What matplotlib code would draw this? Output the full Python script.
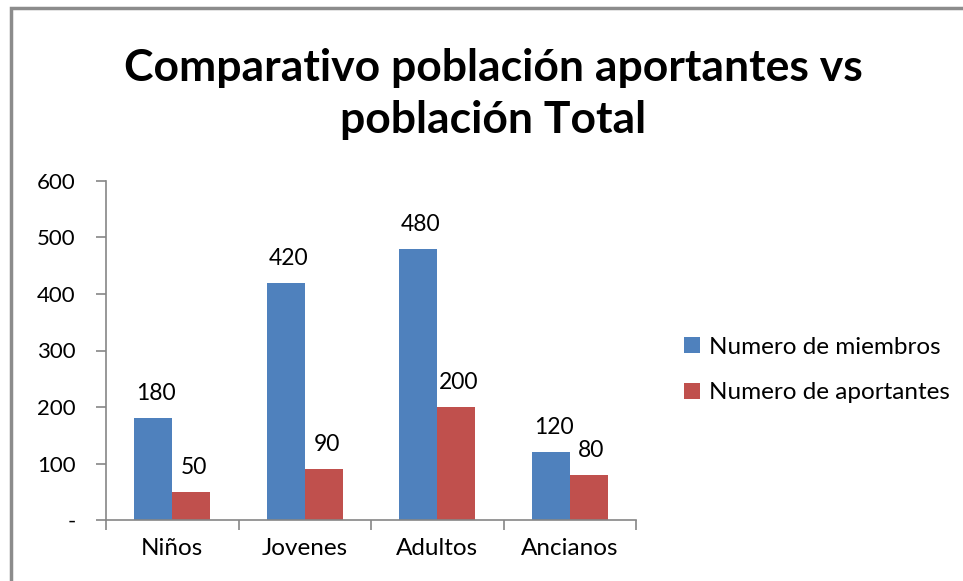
import matplotlib.pyplot as plt
import matplotlib.patches as patches
import numpy as np

plt.rcParams['font.family'] = ['Lato', 'DejaVu Sans']

categorias = ['Niños', 'Jovenes', 'Adultos', 'Ancianos']
miembros = [180, 420, 480, 120]
aportantes = [50, 90, 200, 80]
series = ['Numero de miembros', 'Numero de aportantes']
yticks = [0, 100, 200, 300, 400, 500, 600]
ytick_labels = ['-', '100', '200', '300', '400', '500', '600']

azul = '#4F81BD'
rojo = '#C0504D'
gris = '#868686'

fig = plt.figure(figsize=(9.63, 5.81), dpi=100)

# chart border (top and left edges visible)
fig.patches.append(patches.Rectangle((11 / 963, -0.1), 1.2, 1 - 8 / 581 + 0.1,
                                     transform=fig.transFigure, fill=False,
                                     edgecolor='#8c8c8c', linewidth=2.5))

ax = fig.add_axes([106 / 963, 1 - 520 / 581, 530 / 963, 339 / 581])

x = np.arange(len(categorias))
w = 0.287
b1 = ax.bar(x - w / 2, miembros, w, color=azul, label=series[0])
b2 = ax.bar(x + w / 2, aportantes, w, color=rojo, label=series[1])

for bars, vals in ((b1, miembros), (b2, aportantes)):
    for r, v in zip(bars, vals):
        ax.annotate(str(v), (r.get_x() + r.get_width() / 2, v),
                    xytext=(2, 10), textcoords='offset points',
                    ha='center', va='bottom', fontsize=16.5)

ax.set_xlim(-0.5, len(categorias) - 0.5)
ax.set_ylim(0, 600)
ax.set_yticks(yticks)
ax.set_yticklabels(ytick_labels)
ax.set_xticks(x)
ax.set_xticklabels(categorias)
ax.set_xticks(np.arange(len(categorias) + 1) - 0.5, minor=True)

for s in ('top', 'right'):
    ax.spines[s].set_visible(False)
for s in ('left', 'bottom'):
    ax.spines[s].set_color(gris)
    ax.spines[s].set_linewidth(1.2)

ax.tick_params(axis='y', length=7, color=gris, width=1.2, labelsize=16, pad=15)
ax.tick_params(axis='x', which='major', length=0, labelsize=17.5, pad=13)
ax.tick_params(axis='x', which='minor', length=7, color=gris, width=1.2)

fig.text(493 / 963, 1 - 94 / 581,
         'Comparativo población aportantes vs\npoblación Total',
         ha='center', va='center', fontsize=32, fontweight='bold',
         linespacing=1.35)

fig.legend(handles=[b1, b2], labels=series, loc='center left',
           bbox_to_anchor=(662 / 963, 1 - 370 / 581), frameon=False,
           fontsize=17.5, handlelength=0.65, handleheight=0.65,
           handletextpad=0.4, labelspacing=1.0)

fig.savefig('out.png', dpi=100)
